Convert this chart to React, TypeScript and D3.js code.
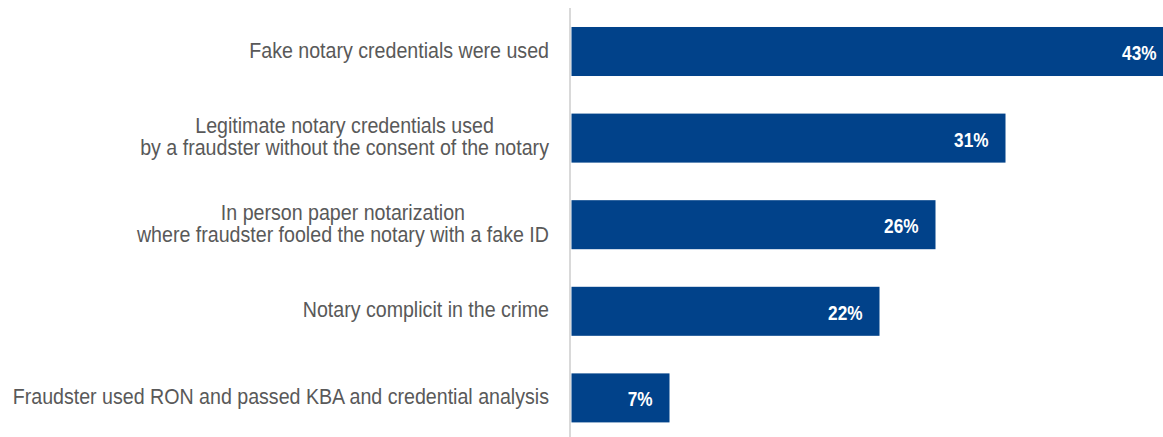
import React from "react";
import * as d3 from "d3";

const categories: string[][] = [
  ["Fake notary credentials were used"],
  ["Legitimate notary credentials used", "by a fraudster without the consent of the notary"],
  ["In person paper notarization", "where fraudster fooled the notary with a fake ID"],
  ["Notary complicit in the crime"],
  ["Fraudster used RON and passed KBA and credential analysis"],
];
const values: number[] = [43, 31, 26, 22, 7];
const valueLabels: string[] = ["43%", "31%", "26%", "22%", "7%"];

const W = 1163;
const H = 437;
const FONT = "'Liberation Sans', Arial, sans-serif";
const CAT_SIZE = 21.4;
const CAT_SX = 0.917;
const VAL_SIZE = 21;
const VAL_SX = 0.82;

let ctx: CanvasRenderingContext2D | null = null;
function measure(t: string): number {
  if (!ctx) ctx = document.createElement("canvas").getContext("2d");
  if (!ctx) return t.length * 10;
  ctx.font = `${CAT_SIZE}px ${FONT}`;
  return ctx.measureText(t).width * CAT_SX;
}

export default function App() {
  const ids = categories.map((_, i) => String(i));
  const y = d3
    .scaleBand<string>()
    .domain(ids)
    .range([8.2, 441.2])
    .paddingInner(0.434)
    .paddingOuter(0.217);
  const x = d3.scaleLinear().domain([0, 43]).range([571.5, 571.5 + 43 * 14]);
  const labelRight = 549;

  return (
    <svg
      width={W}
      height={H}
      style={{ position: "absolute", left: 0, top: 0, background: "#fff" }}
    >
      <line x1={570} x2={570} y1={8} y2={H} stroke="#d9d9d9" strokeWidth={2} />
      {values.map((v, i) => {
        const y0 = y(String(i))!;
        const bh = y.bandwidth();
        const cy = y0 + bh / 2;
        const lines = categories[i];
        const lh = 22;
        const maxW = Math.max(...lines.map(measure));
        const cx = labelRight - maxW / 2;
        return (
          <g key={i}>
            <rect x={x(0)} y={y0} width={x(v) - x(0)} height={bh} fill="#01428A" />
            <text
              transform={`translate(${x(v) - 17},${cy + 8.5}) scale(${VAL_SX},1)`}
              textAnchor="end"
              fill="#fff"
              fontFamily={FONT}
              fontWeight="bold"
              fontSize={VAL_SIZE}
            >
              {valueLabels[i]}
            </text>
            {lines.map((t, j) => (
              <text
                key={j}
                transform={`translate(${lines.length > 1 ? cx : labelRight},${
                  cy + 6 + (j - (lines.length - 1) / 2) * lh
                }) scale(${CAT_SX},1)`}
                textAnchor={lines.length > 1 ? "middle" : "end"}
                fill="#595959"
                fontFamily={FONT}
                fontSize={CAT_SIZE}
              >
                {t}
              </text>
            ))}
          </g>
        );
      })}
    </svg>
  );
}
